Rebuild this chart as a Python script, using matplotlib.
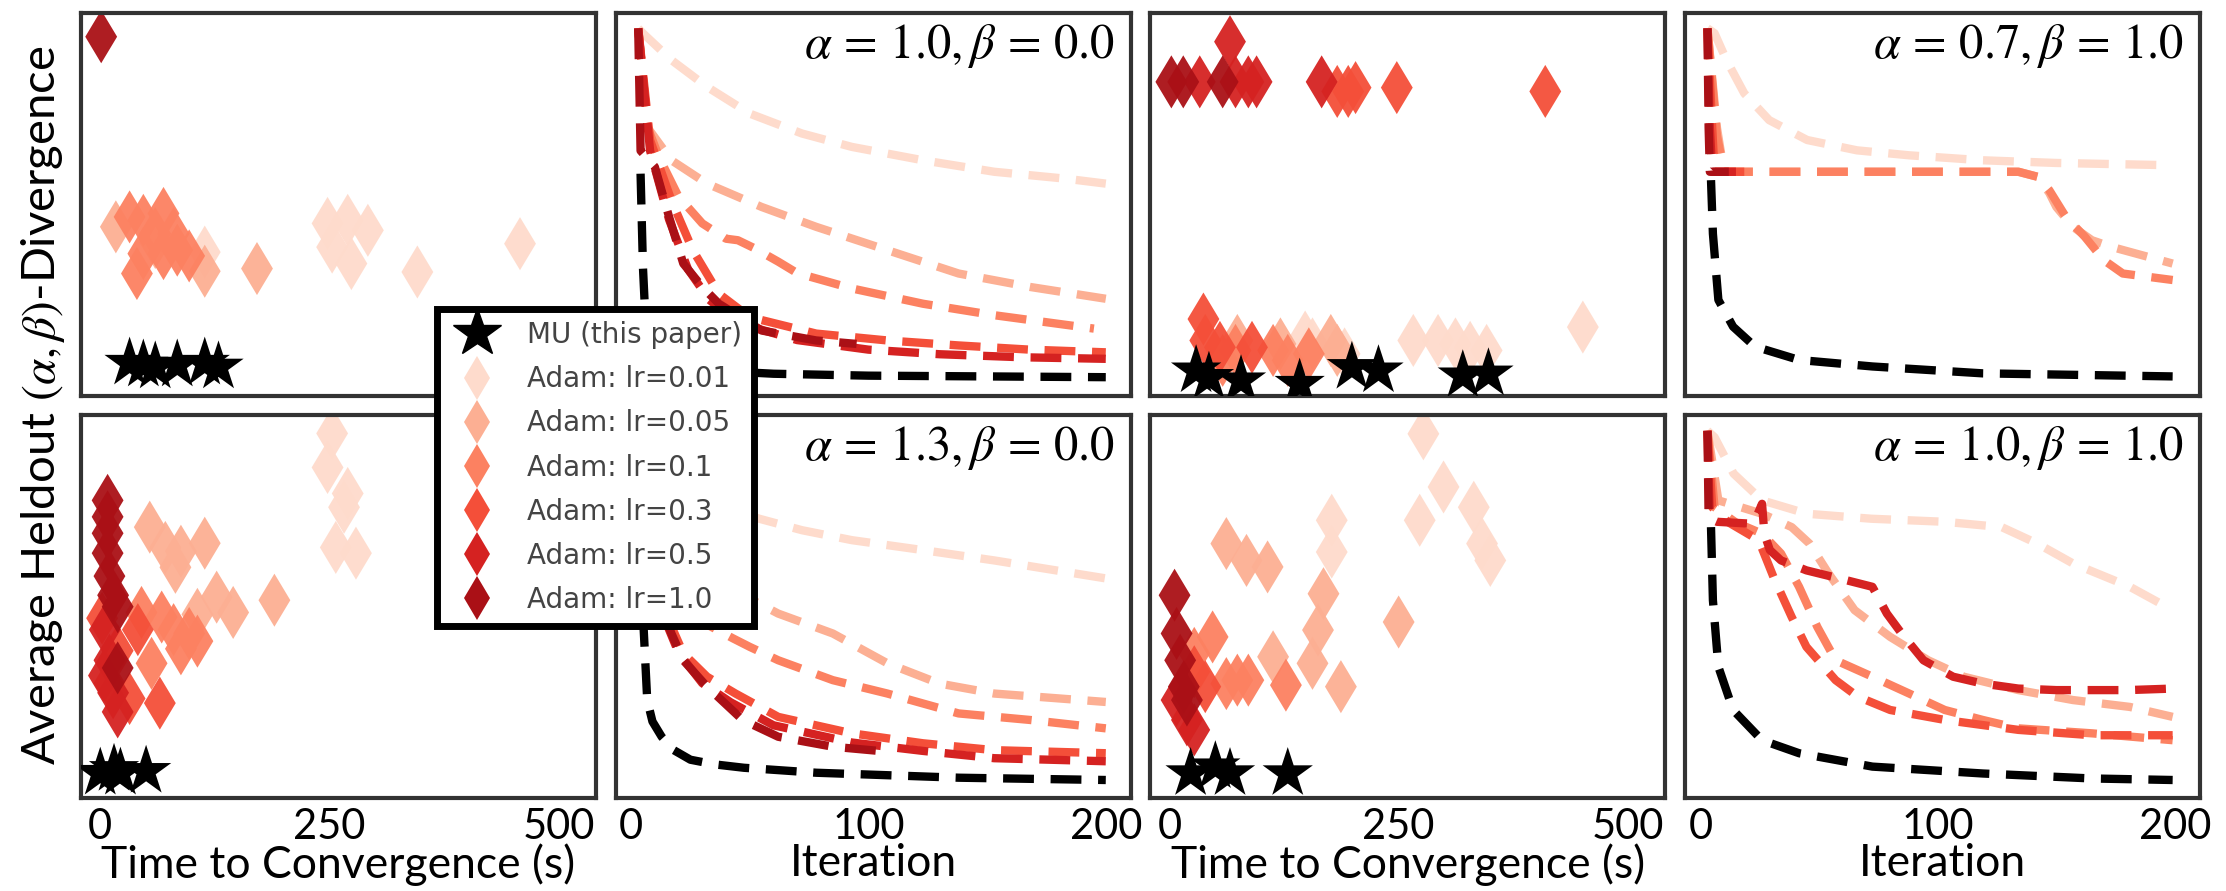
import numpy as np
import matplotlib
matplotlib.use("Agg")
import matplotlib.pyplot as plt
from matplotlib.lines import Line2D

plt.rcParams['font.family'] = ['Lato', 'DejaVu Sans']
plt.rcParams['mathtext.fontset'] = 'stix'

# ordre des séries: MU, Adam lr=0.01, 0.05, 0.1, 0.3, 0.5, 1.0
labels = ['MU (this paper)', 'Adam: lr=0.01', 'Adam: lr=0.05', 'Adam: lr=0.1',
          'Adam: lr=0.3', 'Adam: lr=0.5', 'Adam: lr=1.0']
reds = plt.cm.Reds(np.linspace(0, 1, 8)[1:-1])

# --- temps de convergence vs divergence (colonnes 1 et 3) ---
# alpha=1.0, beta=0.0
scA_x = [[32, 47, 60, 84, 114, 129],
         [114, 248, 270, 292, 253, 274, 346, 458],
         [17, 114, 171, 60],
         [32, 47, 69, 60, 47, 40, 69, 84, 80, 97],
         [], [],
         [1]]
scA_y = [[8.5, 8, 7.5, 8, 8.5, 7.5],
         [37.5, 45, 45.8, 43.2, 38.8, 34.5, 32.3, 39.7],
         [44.1, 32.5, 33.2, 40],
         [46.7, 45.8, 47.6, 42.3, 37.1, 31.9, 37.1, 38, 42.3, 36.5],
         [], [],
         [93.8]]
# alpha=1.3, beta=0.0
scE_x = [[0, 15, 22, 50],
         [253, 248, 270, 266, 257, 279],
         [54, 71, 88, 82, 114, 127, 145, 190, 106],
         [45, 67, 80, 88, 106, 56, 97],
         [2, 19, 32, 65, 41, 10],
         [5, 10, 14, 19, 4],
         [8, 8, 8, 8, 10, 14, 19, 19]]
scE_y = [[6.5, 7.5, 6.5, 7],
         [95.3, 86.4, 79.6, 76, 65.5, 64],
         [70.8, 65.5, 64.5, 60.3, 66.6, 52.5, 48.5, 51.7, 48],
         [48.5, 47.3, 44, 39, 41, 35.2, 43],
         [47, 38.5, 26, 24.8, 44, 30],
         [44, 36, 27.5, 22.5, 32],
         [77.8, 73.5, 69.2, 64, 58, 53, 50, 34]]
# alpha=0.7, beta=1.0
scC_x = [[29, 43, 78, 142, 199, 228, 320, 348],
         [148, 156, 191, 266, 293, 312, 328, 346, 451],
         [74, 121, 176, 183],
         [58, 113, 129, 152, 72],
         [183, 195, 203, 248, 410, 37, 39, 55, 90],
         [33, 66, 72, 86, 95, 166],
         [2, 15, 58]]
scC_y = [[6.5, 4.8, 3.9, 3, 7.4, 6.5, 5.2, 5.7],
         [15.3, 13.5, 10.9, 14.4, 14.4, 13.5, 12.6, 11.8, 17.9],
         [14.4, 13.5, 14.4, 11.8],
         [9.2, 11.8, 9.2, 10.9, 11.8],
         [79.5, 79.5, 80.5, 80.5, 79.5, 20, 14.4, 12.6, 12.6],
         [82, 92.5, 82, 82, 82, 82],
         [82, 82, 82]]
# alpha=1.0, beta=1.0
scG_x = [[23, 50, 66, 129],
         [277, 299, 273, 332, 341, 350, 177, 177],
         [62, 84, 107, 168, 162, 156, 250, 187, 113],
         [47, 62, 74, 86, 127, 27],
         [39, 27],
         [19, 27, 7.7],
         [5.5, 7.7, 11.6, 15.6, 19]]
scG_y = [[6.4, 8.2, 6.4, 6.4],
         [95.2, 81.3, 72.6, 76, 66.5, 62.1, 72.6, 64.3],
         [66.5, 62.1, 60.4, 53.4, 43.9, 35.2, 46, 29.1, 36.9],
         [42.1, 29.9, 30.8, 30.8, 29.5, 37.8],
         [29.1, 33],
         [20.4, 17.8, 25.6],
         [53, 43, 36, 29.1, 25.6]]

# --- courbes par itération (colonnes 2 et 4) ---
lnB_x = [[4, 5, 6, 8, 12, 20, 35, 60, 100, 150, 200],
         [3, 5, 17, 32, 50, 72, 93, 123, 153, 183, 200],
         [3, 7, 17, 32, 55, 78, 108, 138, 168, 200],
         [3, 7, 12, 20, 30, 40, 45, 52, 62, 70, 93, 123, 153, 195],
         [3, 8, 17, 26, 37, 50, 78, 108, 138, 168, 200],
         [3, 8, 16, 24, 33, 45, 70, 100, 130, 165, 200],
         [3, 4, 10, 16, 22, 30, 37, 55, 78, 95]]
lnB_y = [[58, 33.6, 20.5, 14, 10, 7.8, 6.5, 5.7, 5.2, 5.0, 4.8],
         [96, 94.7, 87.7, 80.7, 73.7, 68.5, 65, 61.5, 58.5, 56.7, 55.4],
         [96, 70, 61.5, 55.4, 49.3, 44.1, 38, 31.9, 28.4, 25.3],
         [96, 70, 62, 52, 45, 41, 40.6, 38.5, 35, 32, 28, 24, 21, 17.5],
         [96, 66.8, 51, 38, 26.6, 20.5, 16.2, 14.4, 13.1, 12, 11.3],
         [96, 64, 46, 33, 25, 19, 14.5, 12, 10.8, 10, 9.6],
         [96, 64, 59.8, 46.7, 34.5, 28.4, 24, 17, 14.4, 13.5]]
lnF_x = [[4, 5.4, 6.8, 9, 12.9, 18, 25, 35, 47.5, 78, 138, 200],
         [3, 10, 25, 40, 54, 72, 93, 123, 153, 200],
         [3, 8, 18, 35, 54, 62, 85, 108, 130, 153, 200],
         [3, 7, 15, 30, 43, 50, 62, 85, 108, 138, 168, 200],
         [3, 6, 12, 22, 32, 44, 62, 93, 123, 153, 200],
         [3, 6, 12, 20, 30, 42, 60, 93, 123, 153, 200],
         [3, 5, 10, 17, 22, 32, 47, 62, 85, 108]]
lnF_y = [[60, 43, 25.6, 20, 16, 12.5, 10, 8.8, 7.9, 6.6, 5.3, 4.7],
         [96, 88, 81, 76, 73, 70, 67.4, 64.8, 62.1, 57.4],
         [96, 80, 68, 57, 50.8, 48.2, 43, 35.2, 29.9, 27.3, 25.1],
         [96, 75, 58, 46, 41.7, 39.5, 36, 30.8, 27.3, 22.1, 20.4, 18.2],
         [96, 70, 52, 37.8, 31.7, 27.3, 21.2, 16.9, 14.3, 12.5, 11.7],
         [96, 68, 50, 38, 30, 25, 19, 14.5, 12.3, 10.4, 9.6],
         [96, 72, 55, 43, 36, 29.1, 20.4, 16, 13.4, 12.1]]
lnD_x = [[4.5, 5.3, 7.6, 13.8, 23, 41.6, 72.5, 119, 199],
         [3, 6, 11, 18.5, 29, 45, 66, 88, 119, 150, 199],
         [3, 7, 10, 134, 142, 147, 150, 157, 165, 173, 199],
         [3, 7, 10, 134, 142, 147, 154, 162, 170, 178, 199],
         [3, 5, 6, 20],
         [3, 4, 5, 15],
         [3, 3.5, 4, 12]]
lnD_y = [[56.3, 42.3, 25, 18, 12.8, 9.3, 7.6, 5.8, 5],
         [96, 94.7, 87.7, 79, 72, 66.8, 64.1, 62.8, 61.5, 60.8, 60.2],
         [96, 70, 58.5, 58.5, 57.2, 53, 49.3, 44.1, 40.6, 38.9, 34.5],
         [96, 68, 58.5, 58.5, 57.2, 53.7, 46.7, 41.5, 35.4, 31.9, 30.2],
         [96, 70, 58.5, 58.5],
         [96, 70, 58.5, 58.5],
         [96, 70, 58.5, 58.5]]
lnH_x = [[4.5, 5.3, 7.6, 13.8, 26, 41.6, 72.5, 119, 165, 199],
         [3, 6, 14, 26, 45, 72, 103, 127, 142, 157, 181, 199],
         [3, 7.6, 26, 38.5, 46, 54, 65, 80, 96, 111, 134, 157, 181, 199],
         [3, 6, 15, 26, 34, 41.6, 49.3, 57, 72.5, 88, 103, 119, 134, 165, 199],
         [3, 5, 12, 24.6, 30.8, 38.5, 44.7, 57, 66.3, 80, 103, 134, 165, 199],
         [3, 4, 7, 21.5, 24, 26, 27, 29.3, 34, 44.7, 61.7, 72.5, 78.6, 84.8,
          94, 106.5, 119, 134, 150, 180, 199],
         [3, 3.5, 6]]
lnH_y = [[70.8, 51.7, 34.3, 23, 15.1, 11.7, 8.2, 6.4, 5.1, 4.7],
         [96, 94.3, 84.8, 77.8, 74.3, 73, 72.2, 70.8, 66.5, 61.3, 55.2, 49.1],
         [96, 77.8, 74.3, 70.8, 66.5, 58.7, 49.1, 42.1, 36, 31.7, 28.2, 25.6, 23.8, 21.2],
         [96, 76, 72, 69.1, 63.9, 55.2, 44.7, 36, 31.7, 27.3, 23, 20.4, 18.2, 16.9, 15.1],
         [96, 76, 72, 67.4, 57.8, 47.3, 39.5, 30.8, 26.5, 23, 20.4, 17.8, 16.4, 16.4],
         [96, 73, 72.2, 71.7, 74, 76.9, 69, 64.8, 62.1, 59.5, 56.9, 55.2, 48.2, 43,
          36, 31.7, 29.9, 28.6, 28.2, 28.2, 28.6],
         [96, 73, 72.5]]

titles = [r'$\alpha\,=\,1.0,\beta\,=\,0.0$', r'$\alpha\,=\,0.7,\beta\,=\,1.0$',
          r'$\alpha\,=\,1.3,\beta\,=\,0.0$', r'$\alpha\,=\,1.0,\beta\,=\,1.0$']

fig, axes = plt.subplots(2, 4, figsize=(22.26, 8.91), dpi=100, sharex='col')
fig.subplots_adjust(left=0.0364, right=0.9883, top=0.9854, bottom=0.1044,
                    wspace=0.038, hspace=0.052)

scatters = [(axes[0, 0], scA_x, scA_y), (axes[1, 0], scE_x, scE_y),
            (axes[0, 2], scC_x, scC_y), (axes[1, 2], scG_x, scG_y)]
lines = [(axes[0, 1], lnB_x, lnB_y, titles[0]), (axes[1, 1], lnF_x, lnF_y, titles[2]),
         (axes[0, 3], lnD_x, lnD_y, titles[1]), (axes[1, 3], lnH_x, lnH_y, titles[3])]

for ax, xs, ys in scatters:
    for k in range(1, 7):
        ax.scatter(xs[k], ys[k], marker='d', s=730, color=reds[k - 1],
                   alpha=0.95, edgecolors='none', zorder=2)
    ax.scatter(xs[0], ys[0], marker='*', s=1450, color='black',
               edgecolors='none', zorder=3)
    ax.set_xlim(-21, 541)
    ax.set_xticks([0, 250, 500])

for ax, xs, ys, t in lines:
    for k in range(1, 7):
        ax.plot(xs[k], ys[k], ls='--', lw=6, dashes=(3.7, 2.0),
                color=reds[k - 1], zorder=2)
    ax.plot(xs[0], ys[0], ls='--', lw=6, dashes=(3.7, 2.0), color='black', zorder=3)
    ax.set_xlim(-6.5, 210.5)
    ax.set_xticks([0, 100, 200])
    ax.text(0.969, 0.915, t, transform=ax.transAxes, ha='right', va='center',
            fontsize=35)

for ax in axes.flat:
    ax.set_ylim(0, 100)
    ax.set_yticks([])
    ax.tick_params(axis='x', length=0, labelsize=30, pad=7)
    for sp in ax.spines.values():
        sp.set_linewidth(3)
        sp.set_color('#333333')

for j in range(4):
    axes[1, j].set_xlabel('Time to Convergence (s)' if j % 2 == 0 else 'Iteration',
                          fontsize=32, labelpad=-2)

fig.text(0.0195, 0.545, r'Average Heldout $(\alpha,\beta)$-Divergence',
         rotation=90, ha='center', va='center', fontsize=34)

handles = [Line2D([], [], ls='none', marker='*', ms=36, color='black')]
for k in range(6):
    handles.append(Line2D([], [], ls='none', marker='d', ms=22, color=reds[k],
                          markeredgewidth=0))
leg = fig.legend(handles, labels, loc='center', bbox_to_anchor=(0.2675, 0.4753),
                 prop={'family': 'DejaVu Sans', 'size': 20}, labelcolor='#444444',
                 frameon=True, fancybox=False, framealpha=1, edgecolor='black',
                 labelspacing=0.58, borderpad=0.45, handletextpad=0.8)
leg.get_frame().set_linewidth(5)

fig.savefig('out.png', dpi=100)
